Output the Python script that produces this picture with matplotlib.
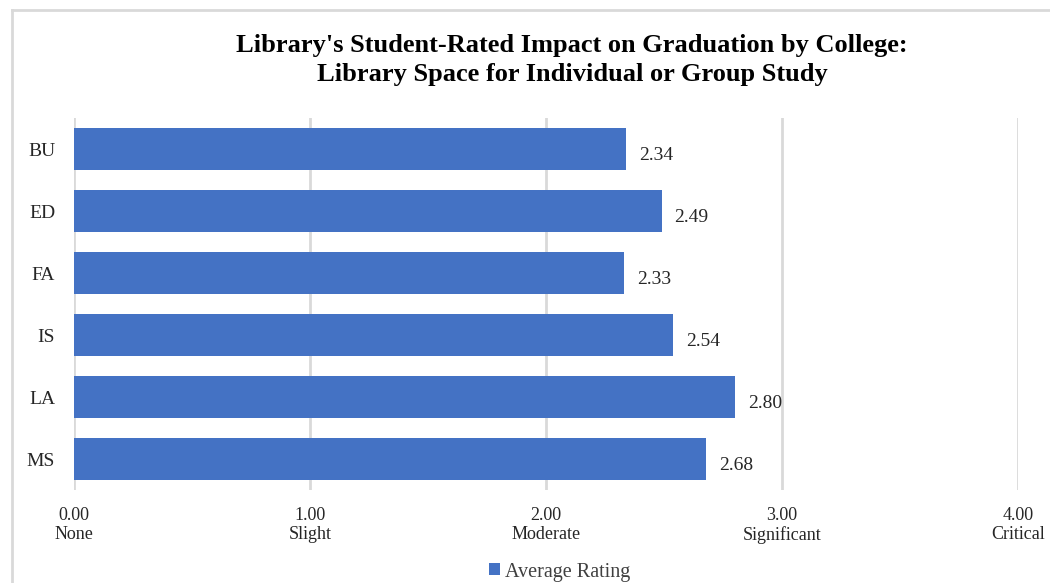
import matplotlib
matplotlib.use("Agg")
import matplotlib.pyplot as plt
from matplotlib.lines import Line2D
from matplotlib.patches import Patch

categories = ["BU", "ED", "FA", "IS", "LA", "MS"]
values = [2.34, 2.49, 2.33, 2.54, 2.80, 2.68]
tick_values = [0, 1, 2, 3, 4]
tick_names = ["None", "Slight", "Moderate", "Significant", "Critical"]
title = "Library's Student-Rated Impact on Graduation by College:\nLibrary Space for Individual or Group Study"
series_name = "Average Rating"

plt.rcParams['font.family'] = ['Liberation Serif', 'DejaVu Serif']
bar_color = "#4472C4"

fig = plt.figure(figsize=(10.5, 5.83), dpi=100)
ax = fig.add_axes([74/1050, 1-490/583, 944/1050, 372/583])

y = list(range(len(categories)))
ax.barh(y, values, height=0.68, color=bar_color, zorder=3)
ax.set_ylim(len(categories)-0.5, -0.5)
ax.set_xlim(0, 4)
for yi, v in zip(y, values):
    ax.text(v + 0.055, yi + 0.1, f"{v:.2f}", va="center", ha="left", fontsize=14, color="#262626", zorder=4)

ax.set_yticks(y)
ax.set_yticklabels(categories, fontsize=14, color="#262626")
ax.set_xticks(tick_values)
ax.set_xticklabels([f"{t:.2f}\n{n}" for t, n in zip(tick_values, tick_names)],
                   fontsize=13, color="#262626", linespacing=1.1)
ax.tick_params(axis="both", length=0)
ax.tick_params(axis="y", pad=13.5)
ax.tick_params(axis="x", pad=12.5)
ax.grid(axis="x", color="#d9d9d9", linewidth=2, zorder=0)
for s in ax.spines.values():
    s.set_visible(False)

fig.text(572/1050, 1-60/583, title, ha="center", va="center", fontsize=19,
         fontweight="bold", color="#000000", linespacing=1.35)

handle = Patch(facecolor=bar_color)
fig.legend([handle], [series_name], loc="center", bbox_to_anchor=(560/1050, 1-572/583),
           frameon=False, fontsize=14.5, handlelength=0.55, handleheight=0.55,
           handletextpad=0.25, labelcolor="#404040", borderpad=0)

# chart border (clipped)
fig.add_artist(Line2D([12/1050, 12/1050], [0, 1-10/583], transform=fig.transFigure,
                      color="#d9d9d9", linewidth=2))
fig.add_artist(Line2D([12/1050, 1], [1-10/583, 1-10/583], transform=fig.transFigure,
                      color="#d9d9d9", linewidth=2))

fig.savefig("out.png", dpi=100)
